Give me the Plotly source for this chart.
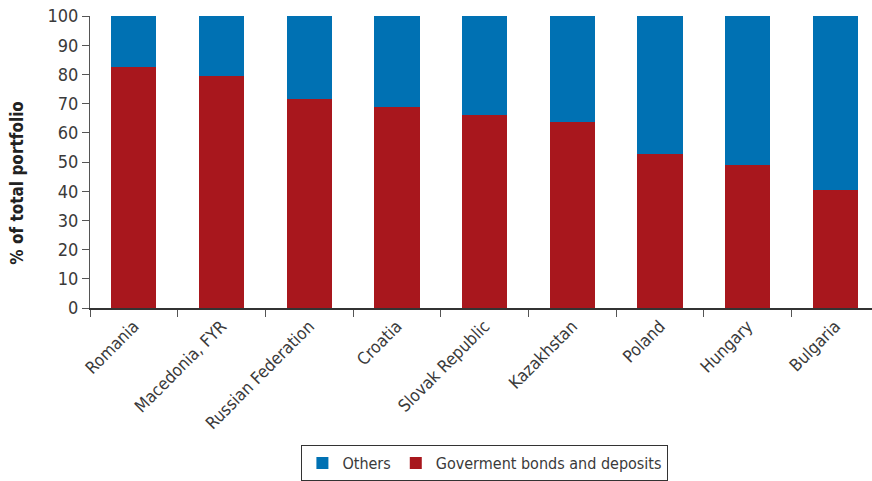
import plotly.graph_objects as go

countries = ["Romania", "Macedonia, FYR", "Russian Federation", "Croatia",
             "Slovak Republic", "Kazakhstan", "Poland", "Hungary", "Bulgaria"]
gov_bonds = [82.4, 79.5, 71.5, 68.7, 66.1, 63.7, 52.7, 49.0, 40.5]
others = [round(100 - v, 1) for v in gov_bonds]

FONT = "Liberation Sans Narrow, DejaVu Sans Condensed, Roboto, sans-serif"
TXT = "#3a3a3a"

fig = go.Figure()
fig.add_trace(go.Bar(x=countries, y=gov_bonds, name="Goverment bonds and deposits",
                     marker=dict(color="#a8171d", line=dict(width=0)), width=0.515))
fig.add_trace(go.Bar(x=countries, y=others, name="Others",
                     marker=dict(color="#0071b3", line=dict(width=0)), width=0.515))

fig.update_layout(
    barmode="stack",
    width=872, height=481,
    margin=dict(l=90, r=0, t=16, b=173, autoexpand=False),
    paper_bgcolor="white", plot_bgcolor="white",
    font=dict(family=FONT, color=TXT, size=16),
    showlegend=True,
    legend=dict(orientation="h", traceorder="reversed",
                x=0.505, xanchor="center",
                yref="container", y=0.0, yanchor="bottom",
                bordercolor="#333333", borderwidth=1,
                font=dict(size=16, family=FONT, color=TXT),
                itemwidth=30, tracegroupgap=0),
    xaxis=dict(range=[-0.5, 8.417], tickangle=-45, tickson="boundaries",
               ticks="outside", ticklen=7, tickcolor="#555555",
               showline=True, linecolor="#333333", linewidth=1.5,
               showgrid=False, automargin=False,
               tickfont=dict(size=17, family=FONT, color=TXT)),
    yaxis=dict(range=[0, 100], tickvals=list(range(0, 101, 10)),
               ticks="outside", ticklen=7, tickcolor="#555555",
               showline=True, linecolor="#555555", linewidth=1,
               showgrid=False, zeroline=False, automargin=False,
               ticklabeloverflow="allow",
               tickfont=dict(size=18, family=FONT, color=TXT)),
    annotations=[dict(text="<b>% of total portfolio</b>", textangle=-90,
                      xref="paper", yref="paper", x=-0.093, y=0.43,
                      xanchor="center", yanchor="middle", showarrow=False,
                      font=dict(size=17, family=FONT, color="#222222"))],
)

fig.write_html("out.html", config={"displayModeBar": False},
               post_script="document.body.style.margin='0';document.body.style.overflow='hidden';")
